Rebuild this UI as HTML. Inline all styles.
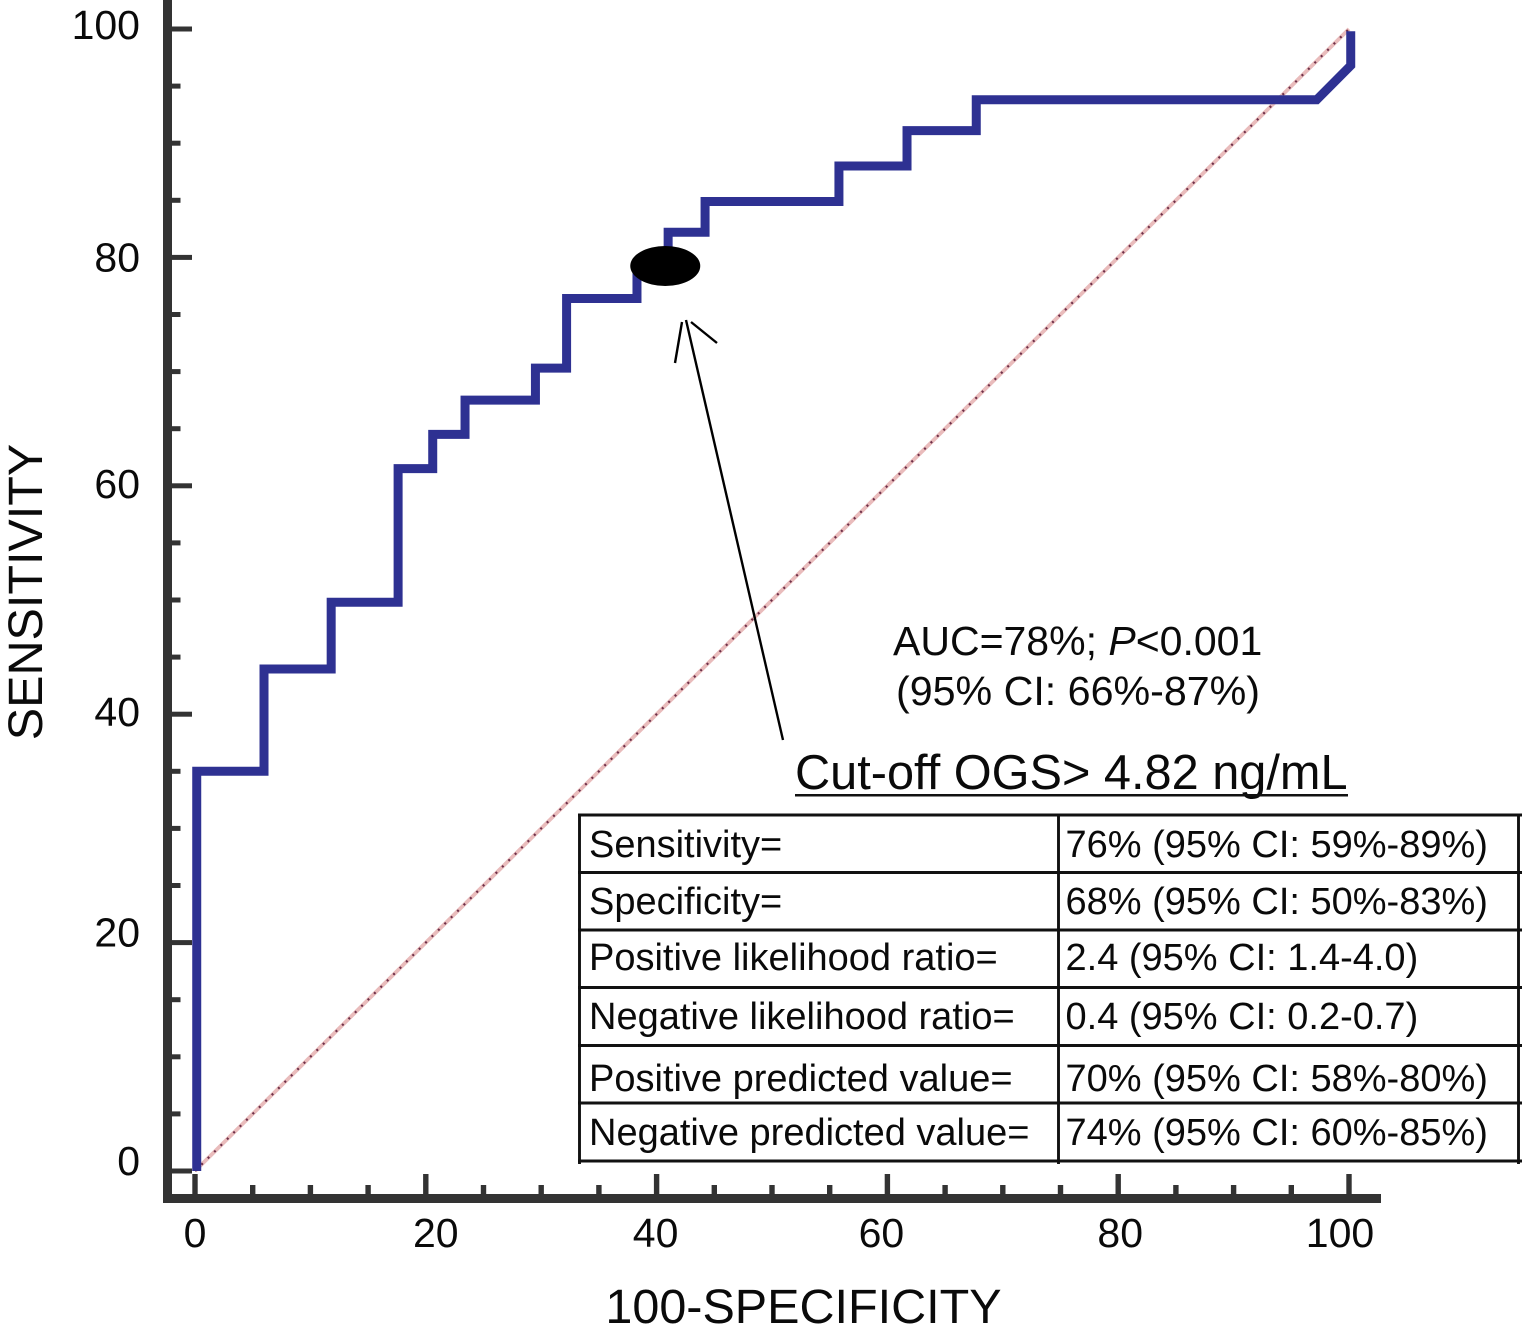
<!DOCTYPE html>
<html>
<head>
<meta charset="utf-8">
<title>ROC curve</title>
<style>
html,body{margin:0;padding:0;background:#fff;width:1522px;height:1335px;overflow:hidden}
svg{display:block;font-family:"Liberation Sans",Arial,sans-serif;fill:#0a0a0a}
</style>
</head>
<body>
<svg id="chart" xmlns="http://www.w3.org/2000/svg" width="1522" height="1335" viewBox="0 0 1522 1335">
  <g id="x-axis"></g>
  <g id="y-axis"></g>
  <g id="series"></g>

  <text transform="translate(42,592) rotate(-90)" text-anchor="middle" font-size="48.5">SENSITIVITY</text>
  <text x="803.5" y="1323" text-anchor="middle" font-size="48.5">100-SPECIFICITY</text>

  <g fill="none" stroke="#000" stroke-width="2.4">
    <line x1="783" y1="740" x2="686" y2="320"></line>
    <line x1="675" y1="363" x2="682" y2="322"></line>
    <line x1="691" y1="322" x2="717" y2="343"></line>
  </g>

  <text x="893" y="655" font-size="41">AUC=78%; <tspan font-style="italic">P</tspan>&lt;0.001</text>
  <text x="896" y="705" font-size="41.2">(95% CI: 66%-87%)</text>
  <text x="795" y="789" font-size="48.7">Cut-off OGS&gt; 4.82 ng/mL</text>
  <rect x="795" y="794" width="553" height="2.5" fill="#111"></rect>

  <g>
    <g stroke="#111" stroke-width="2.9" fill="none">
      <line x1="578" y1="815" x2="1522" y2="815"></line>
      <line x1="578" y1="872.5" x2="1522" y2="872.5"></line>
      <line x1="578" y1="930" x2="1522" y2="930"></line>
      <line x1="578" y1="987.5" x2="1522" y2="987.5"></line>
      <line x1="578" y1="1045.5" x2="1522" y2="1045.5"></line>
      <line x1="578" y1="1103" x2="1522" y2="1103"></line>
      <line x1="578" y1="1161" x2="1522" y2="1161"></line>
      <line x1="579.5" y1="814" x2="579.5" y2="1164"></line>
      <line x1="1058.5" y1="814" x2="1058.5" y2="1164"></line>
      <line x1="1518.5" y1="814" x2="1518.5" y2="1164"></line>
    </g>
    <g font-size="38">
      <text x="589" y="857">Sensitivity=</text>
      <text x="1065.5" y="857">76% (95% CI: 59%-89%)</text>
      <text x="589" y="914">Specificity=</text>
      <text x="1065.5" y="914">68% (95% CI: 50%-83%)</text>
      <text x="589" y="970">Positive likelihood ratio=</text>
      <text x="1065.5" y="970">2.4 (95% CI: 1.4-4.0)</text>
      <text x="589" y="1029">Negative likelihood ratio=</text>
      <text x="1065.5" y="1029">0.4 (95% CI: 0.2-0.7)</text>
      <text x="589" y="1091">Positive predicted value=</text>
      <text x="1065.5" y="1091">70% (95% CI: 58%-80%)</text>
      <text x="589" y="1145">Negative predicted value=</text>
      <text x="1065.5" y="1145">74% (95% CI: 60%-85%)</text>
    </g>
  </g>
</svg>
<script>
const rocFpr = [0.15, 0.15, 5.98, 5.98, 11.8, 11.8, 17.6, 17.6, 20.6, 20.6, 23.4, 23.4, 29.5, 29.5, 32.2, 32.2, 38.3, 38.3, 41.0, 41.0, 44.2, 44.2, 55.8, 55.8, 61.7, 61.7, 67.7, 67.7, 97.2, 100.15, 100.15];
const rocTpr = [0, 35.0, 35.0, 43.96, 43.96, 49.8, 49.8, 61.5, 61.5, 64.5, 64.5, 67.5, 67.5, 70.3, 70.3, 76.4, 76.4, 79.3, 79.3, 82.2, 82.2, 84.9, 84.9, 88.0, 88.0, 91.1, 91.1, 93.8, 93.8, 96.8, 99.8];
const referenceX = [0, 100];
const referenceY = [0, 100];
const cutoffPoint = [40.75, 79.25];
const xTickLabels = ["0", "20", "40", "60", "80", "100"];
const yTickLabels = ["0", "20", "40", "60", "80", "100"];
const tickValues = [0, 5, 10, 15, 20, 25, 30, 35, 40, 45, 50, 55, 60, 65, 70, 75, 80, 85, 90, 95, 100];

const xScale = function (v) { return 195 + v * 11.54; };
const yScale = function (v) { return 1171 - v * 11.42; };

const xLabelNudge = {"0": 0, "20": 10, "40": -1, "60": -6, "80": 2, "100": -9};
const yLabelNudge = {"0": 4, "20": 4, "40": 12, "60": 12, "80": 14, "100": 10};

const SVGNS = "http://www.w3.org/2000/svg";
function make(tag, parent, attrs) {
  const el = document.createElementNS(SVGNS, tag);
  for (const k in attrs) el.setAttribute(k, attrs[k]);
  parent.appendChild(el);
  return el;
}

const xAxis = document.getElementById("x-axis");
const yAxis = document.getElementById("y-axis");
const series = document.getElementById("series");

const yLine = make("rect", yAxis, {x: 163, y: 0, width: 9, height: 1203, fill: "#333"});



const xLine = make("rect", xAxis, {x: 163, y: 1194, width: 1218, height: 9, fill: "#333"});



tickValues.forEach(function (v) {
  const major = v % 20 === 0;
  const yt = make("rect", yAxis, {x: 171, y: yScale(v) - 2.5, width: major ? 21 : 9.5, height: 5, fill: "#333"});
  
  
  const top = major ? 1174 : 1185;
  const xt = make("rect", xAxis, {x: xScale(v) - 2.7, y: top, width: 5.4, height: 1195 - top, fill: "#333"});
  
  
});

xTickLabels.forEach(function (label) {
  const t = make("text", xAxis, {x: xScale(+label) + xLabelNudge[label], y: 1247, "text-anchor": "middle", "font-size": 41});
  
  
  t.textContent = label;
});

yTickLabels.forEach(function (label) {
  const t = make("text", yAxis, {x: 140, y: yScale(+label) + yLabelNudge[label], "text-anchor": "end", "font-size": 41});
  
  
  t.textContent = label;
});

const refPoints = referenceX.map(function (v, i) { return xScale(v) + "," + yScale(referenceY[i]); }).join(" ");
const refPink = make("polyline", series, {points: refPoints, fill: "none", stroke: "#e9bcbc", "stroke-width": 3.8});


const refDots = make("polyline", series, {points: refPoints, fill: "none", stroke: "#6d2f48", "stroke-width": 2.2, "stroke-dasharray": "2 7"});



const rocPoints = rocFpr.map(function (v, i) { return xScale(v) + "," + yScale(rocTpr[i]); }).join(" ");
const rocLine = make("polyline", series, {points: rocPoints, fill: "none", stroke: "#2e3192", "stroke-width": 9, "stroke-linejoin": "miter"});



const marker = make("ellipse", series, {cx: xScale(cutoffPoint[0]), cy: yScale(cutoffPoint[1]), rx: 35, ry: 20, fill: "#000"});


</script>
</body>
</html>
